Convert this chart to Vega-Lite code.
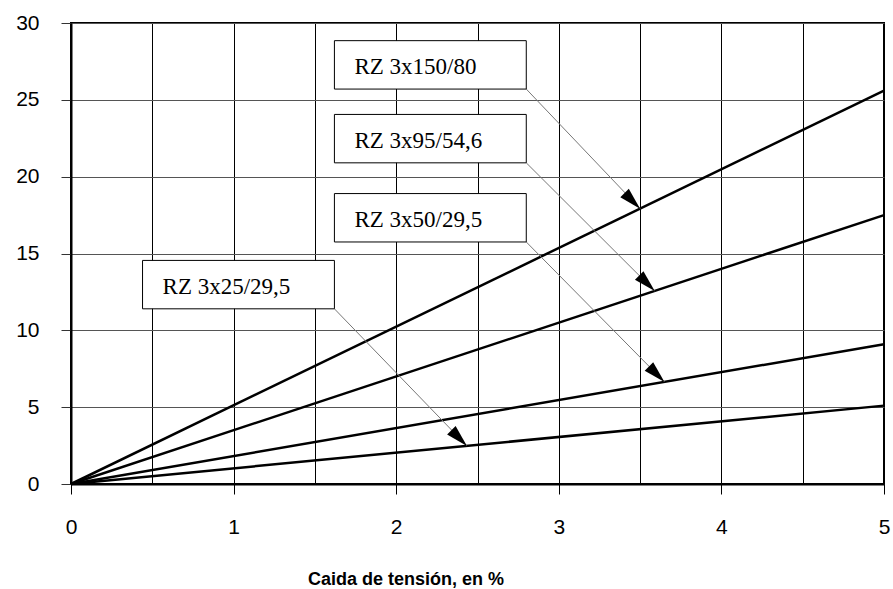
{
  "$schema": "https://vega.github.io/schema/vega-lite/v6.json",
  "autosize": {"type": "none"},
  "width": 813,
  "height": 461,
  "padding": {"left": 71, "top": 23, "right": 9, "bottom": 105},
  "background": "white",
  "config": {
    "view": {"stroke": "black", "strokeWidth": 2},
    "axis": {"labelFont": "Liberation Sans", "titleFont": "Liberation Sans", "labelColor": "black", "titleColor": "black"}
  },
  "datasets": {
    "lines": [
      {"serie": "RZ 3x150/80", "x": 0, "y": 0},
      {"serie": "RZ 3x150/80", "x": 5, "y": 25.6},
      {"serie": "RZ 3x95/54,6", "x": 0, "y": 0},
      {"serie": "RZ 3x95/54,6", "x": 5, "y": 17.5},
      {"serie": "RZ 3x50/29,5", "x": 0, "y": 0},
      {"serie": "RZ 3x50/29,5", "x": 5, "y": 9.1},
      {"serie": "RZ 3x25/29,5", "x": 0, "y": 0},
      {"serie": "RZ 3x25/29,5", "x": 5, "y": 5.1}
    ],
    "labels": [
      {"serie": "RZ 3x150/80", "x0": 1.62, "x1": 2.8, "y0": 25.7, "y1": 28.85, "ym": 27.2, "tx": 3.5, "ty": 17.92},
      {"serie": "RZ 3x95/54,6", "x0": 1.62, "x1": 2.8, "y0": 20.9, "y1": 24.05, "ym": 22.4, "tx": 3.59, "ty": 12.56},
      {"serie": "RZ 3x50/29,5", "x0": 1.62, "x1": 2.8, "y0": 15.75, "y1": 18.9, "ym": 17.25, "tx": 3.65, "ty": 6.64},
      {"serie": "RZ 3x25/29,5", "x0": 0.44, "x1": 1.62, "y0": 11.4, "y1": 14.55, "ym": 12.9, "tx": 2.435, "ty": 2.48}
    ]
  },
  "layer": [
    {
      "data": {"name": "lines"},
      "mark": {"type": "line", "color": "black", "strokeWidth": 2.5},
      "encoding": {
        "x": {
          "field": "x", "type": "quantitative",
          "scale": {"domain": [0, 5], "nice": false, "zero": false},
          "axis": {
            "values": [0, 0.5, 1, 1.5, 2, 2.5, 3, 3.5, 4, 4.5, 5],
            "labelExpr": "datum.value % 1 === 0 ? format(datum.value, 'd') : ''",
            "tickOpacity": {"condition": {"test": "datum.value % 1 !== 0", "value": 0}, "value": 1},
            "grid": true, "gridColor": "black", "gridWidth": 1, "gridOpacity": 1,
            "domainColor": "black", "domainWidth": 2,
            "tickColor": "black", "tickSize": 10, "tickWidth": 1,
            "labelFontSize": 21, "labelPadding": 22, "labelFlush": false, "labelOverlap": false,
            "title": "Caida de tensión, en %",
            "titleFontSize": 18, "titleFontWeight": "bold",
            "titleX": 334.5, "titleY": 100, "titleAlign": "center", "titleBaseline": "alphabetic", "titleAnchor": null
          }
        },
        "y": {
          "field": "y", "type": "quantitative",
          "scale": {"domain": [0, 30], "nice": false},
          "axis": {
            "values": [0, 5, 10, 15, 20, 25, 30],
            "grid": true, "gridColor": "#555555", "gridWidth": 1, "gridOpacity": 1,
            "domainColor": "black", "domainWidth": 2,
            "tickColor": "#333333", "tickSize": 10, "tickWidth": 1,
            "labelFontSize": 21, "labelPadding": 22, "labelAlign": "right", "labelFlush": false,
            "title": null
          }
        },
        "detail": {"field": "serie", "type": "nominal"}
      }
    },
    {
      "data": {"name": "labels"},
      "mark": {"type": "rule", "color": "#777777", "strokeWidth": 1},
      "encoding": {
        "x": {"field": "x1", "type": "quantitative"},
        "y": {"field": "y0", "type": "quantitative"},
        "x2": {"field": "tx"},
        "y2": {"field": "ty"}
      }
    },
    {
      "data": {"name": "labels"},
      "mark": {"type": "rect", "fill": "white", "stroke": "black", "strokeWidth": 1},
      "encoding": {
        "x": {"field": "x0", "type": "quantitative"},
        "x2": {"field": "x1"},
        "y": {"field": "y0", "type": "quantitative"},
        "y2": {"field": "y1"}
      }
    },
    {
      "data": {"name": "labels"},
      "mark": {"type": "text", "font": "Liberation Serif", "fontSize": 23, "color": "black", "align": "left", "baseline": "middle", "dx": 20, "dy": 1},
      "encoding": {
        "x": {"field": "x0", "type": "quantitative"},
        "y": {"field": "ym", "type": "quantitative"},
        "text": {"field": "serie", "type": "nominal"}
      }
    },
    {
      "data": {"name": "labels"},
      "mark": {"type": "point", "shape": "M0,0L-0.6,2.2L0.6,2.2Z", "size": 400, "angle": 135, "filled": true, "color": "black", "opacity": 1, "strokeWidth": 0},
      "encoding": {
        "x": {"field": "tx", "type": "quantitative"},
        "y": {"field": "ty", "type": "quantitative"}
      }
    }
  ]
}
